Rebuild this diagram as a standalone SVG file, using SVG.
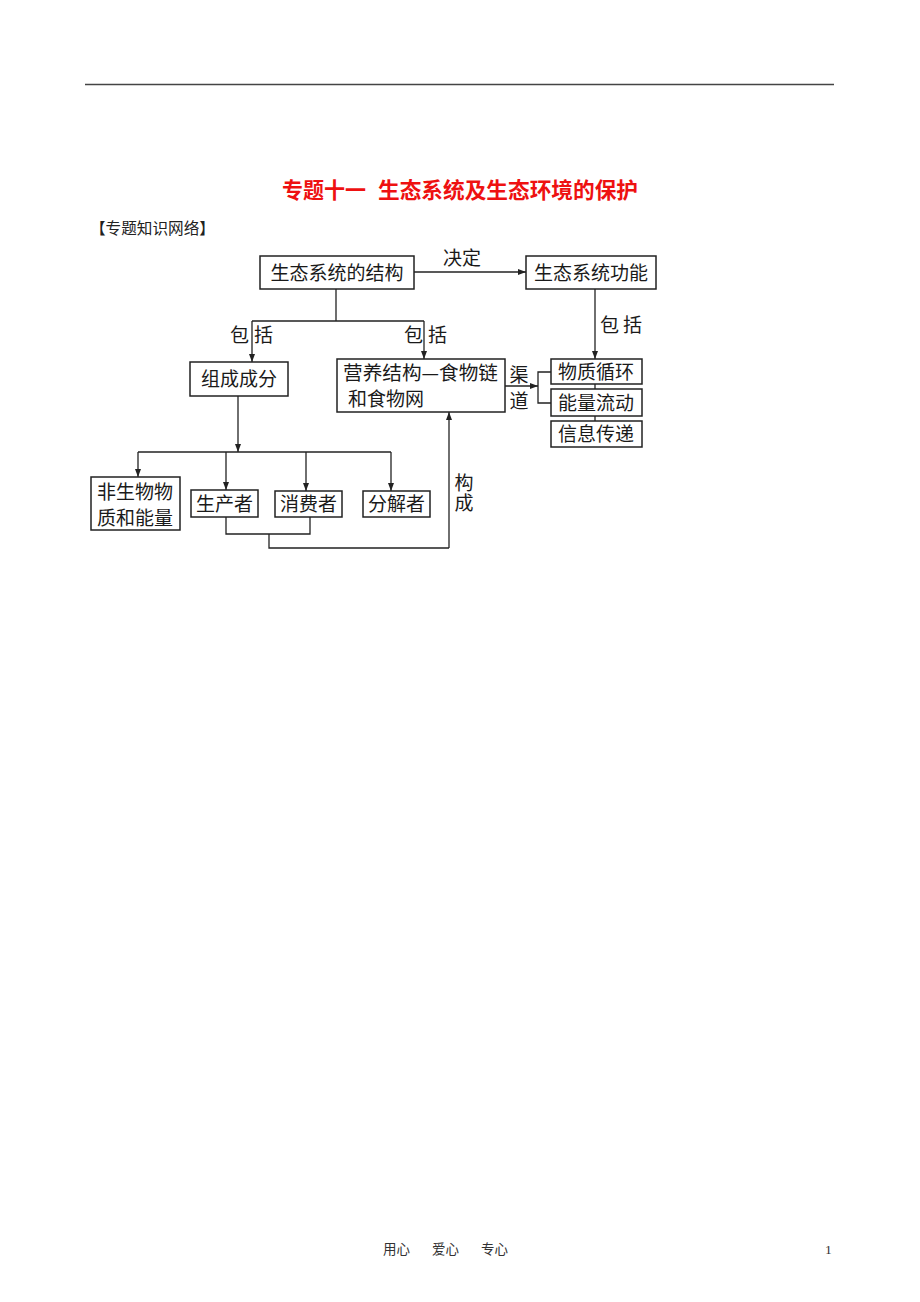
<svg xmlns="http://www.w3.org/2000/svg" width="920" height="1302" viewBox="0 0 920 1302">
<defs>
<marker id="ah" markerUnits="userSpaceOnUse" markerWidth="9" markerHeight="7" refX="8" refY="3" orient="auto">
<path d="M0,0 L8,3 L0,6 z" fill="#222"/>
</marker>
<style>
.t{font-family:"Noto Sans CJK SC","Noto Sans",sans-serif;fill:#1a1a1a;font-size:19px}
.b{fill:#fff;stroke:#222;stroke-width:1.5}
.c{fill:none;stroke:#222;stroke-width:1.3}
.a{marker-end:url(#ah)}
.m{text-anchor:middle}
</style>
</defs>
<rect width="920" height="1302" fill="#fff"/>
<line x1="85" y1="84.5" x2="834" y2="84.5" stroke="#444" stroke-width="1.6"/>
<text x="282" y="198" font-family="'Noto Sans CJK SC',sans-serif" font-size="21.5" font-weight="bold" fill="#ee1111" textLength="84" lengthAdjust="spacingAndGlyphs">专题十一</text>
<text x="378" y="198" font-family="'Noto Sans CJK SC',sans-serif" font-size="21.5" font-weight="bold" fill="#ee1111" textLength="260" lengthAdjust="spacingAndGlyphs">生态系统及生态环境的保护</text>
<text x="90" y="234" font-family="'Noto Sans CJK SC',sans-serif" font-size="15.5" fill="#222" textLength="125" lengthAdjust="spacingAndGlyphs">【专题知识网络】</text>

<g id="connectors">
<path class="c a" d="M414,272 H526"/>
<path class="c" d="M336,289 V321 M252,321 H424"/>
<path class="c a" d="M252,321 V362"/>
<path class="c a" d="M424,321 V359"/>
<path class="c a" d="M595,289 V359"/>
<path class="c" d="M595,384 V389 M595,416 V421"/>
<path class="c a" d="M505,386 H538"/>
<path class="c" d="M551,372 H538 V403 H551"/>
<path class="c a" d="M238,396 V452"/>
<path class="c" d="M138,452 H391"/>
<path class="c a" d="M138,452 V477"/>
<path class="c a" d="M226,452 V490"/>
<path class="c a" d="M306,452 V491"/>
<path class="c a" d="M391,452 V491"/>
<path class="c" d="M226,517 V534 H310 V517 M269,534 V548 H449"/>
<path class="c a" d="M449,548 V412"/>
<text class="t m" x="462" y="265">决定</text>
<text class="t" x="230" y="342" textLength="43" lengthAdjust="spacing">包 括</text>
<text class="t" x="404" y="342" textLength="43" lengthAdjust="spacing">包 括</text>
<text class="t" x="600" y="332" textLength="42" lengthAdjust="spacing">包 括</text>
<text class="t m" font-size="17"><tspan x="519" y="381.5">渠</tspan><tspan x="519" y="408">道</tspan></text>
<text class="t" font-size="18.5" writing-mode="vertical-rl" letter-spacing="1.5" x="464" y="473">构成</text>
</g>

<g id="n-structure">
<rect class="b" x="260" y="256" width="154" height="33"/>
<text class="t m" x="337" y="280">生态系统的结构</text>
</g>
<g id="n-function">
<rect class="b" x="526" y="256" width="130" height="33"/>
<text class="t m" x="591" y="280">生态系统功能</text>
</g>
<g id="n-component">
<rect class="b" x="190" y="362" width="98" height="34"/>
<text class="t m" x="239" y="386">组成成分</text>
</g>
<g id="n-trophic">
<rect class="b" x="337" y="359" width="168" height="53"/>
<text class="t" x="343" y="380" textLength="155" lengthAdjust="spacingAndGlyphs">营养结构—食物链</text>
<text class="t" x="348" y="406">和食物网</text>
</g>
<g id="n-matter">
<rect class="b" x="551" y="359" width="91" height="25"/>
<text class="t m" x="596" y="379">物质循环</text>
</g>
<g id="n-energy">
<rect class="b" x="551" y="389" width="91" height="27"/>
<text class="t m" x="596" y="410">能量流动</text>
</g>
<g id="n-info">
<rect class="b" x="551" y="421" width="91" height="26"/>
<text class="t m" x="596" y="441">信息传递</text>
</g>
<g id="n-abiotic">
<rect class="b" x="91" y="477" width="89" height="53"/>
<text class="t m" x="135" y="499">非生物物</text>
<text class="t m" x="135" y="525">质和能量</text>
</g>
<g id="n-producer">
<rect class="b" x="191" y="490" width="67" height="27"/>
<text class="t m" x="224.5" y="511">生产者</text>
</g>
<g id="n-consumer">
<rect class="b" x="275" y="491" width="67" height="26"/>
<text class="t m" x="308.5" y="511">消费者</text>
</g>
<g id="n-decomposer">
<rect class="b" x="363" y="491" width="67" height="26"/>
<text class="t m" x="396.5" y="511">分解者</text>
</g>

<text x="383" y="1254" font-family="'Noto Sans CJK SC',sans-serif" font-size="13.5" fill="#333">用心</text>
<text x="432" y="1254" font-family="'Noto Sans CJK SC',sans-serif" font-size="13.5" fill="#333">爱心</text>
<text x="481" y="1254" font-family="'Noto Sans CJK SC',sans-serif" font-size="13.5" fill="#333">专心</text>
<text x="825" y="1254" font-family="'Liberation Serif',serif" font-size="13.5" fill="#333">1</text>
</svg>
